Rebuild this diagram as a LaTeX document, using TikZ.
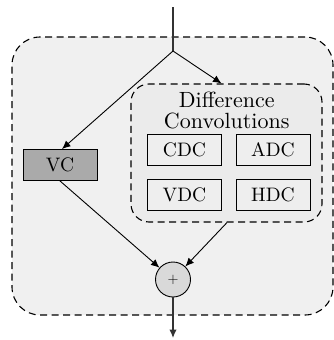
\documentclass[tikz,border=0pt]{standalone}
\usetikzlibrary{arrows.meta,calc}
\definecolor{blockfill}{RGB}{240,240,240}
\definecolor{groupfill}{RGB}{235,235,235}
\definecolor{opfill}{RGB}{238,238,238}
\definecolor{vcfill}{RGB}{170,170,170}
\definecolor{sumfill}{RGB}{217,217,217}
% optical size 10 design, scaled up
\font\titlefnt="[lmroman10-regular]:mapping=tex-text;" at 22pt
\font\boxfnt="[lmroman10-regular]:mapping=tex-text;" at 19.5pt
\begin{document}
\begin{tikzpicture}[x=1pt,y=-1pt,
  lbl/.style={font=\titlefnt, inner sep=0pt},
  frame/.style={draw, line width=1.1pt, dash pattern=on 7pt off 4.5pt, rounded corners=#1, inner sep=0pt},
  opbox/.style={draw, line width=0.9pt, fill=opfill, minimum width=74pt, minimum height=31pt, inner sep=0pt, font=\boxfnt},
  flow/.style={-{Latex[length=8.5pt,width=7.5pt]}, line width=0.9pt},
]
\useasboundingbox (0,0) rectangle (334,340);
% outer block
\node[frame=28pt, fill=blockfill, minimum width=321pt, minimum height=278pt] (blk) at (172.5,176) {};
% difference-convolution group
\node[frame=18pt, fill=groupfill, minimum width=191pt, minimum height=138pt] (dc) at (226.5,153) {};
\node[lbl, anchor=base] (t1) at (226.7,107.5) {Difference};
\node[lbl, anchor=base] (t2) at (226.7,128) {Convolutions};
\node[opbox] (cdc) at (184.5,150) {CDC};
\node[opbox] (adc) at (273,150) {ADC};
\node[opbox] (vdc) at (184.5,195) {VDC};
\node[opbox] (hdc) at (273,195) {HDC};
% vanilla convolution
\node[opbox, fill=vcfill] (vc) at (60,165) {VC};
% summation
\node[draw, circle, line width=0.9pt, fill=sumfill, minimum size=35pt, inner sep=0pt, font=\fontsize{14}{14}\selectfont] (sum) at (173,279.5) {$+$};
% connections
\coordinate (in) at (173,7);
\coordinate (split) at (173,51);
\coordinate (out) at (173,338);
\draw[line width=1.5pt, black!80] (in) -- (split);
\draw[flow] (split) -- ($(vc.north)+(2,0)$);
\draw[flow] (split) -- ($(dc.north)+(-5,0)$);
\draw[flow] (vc.south) -- (sum);
\draw[flow] ($(dc.south)+(0.5,0)$) -- (sum);
\draw[flow, line width=1.3pt, black!80] (sum) -- (out);
\end{tikzpicture}
\end{document}
